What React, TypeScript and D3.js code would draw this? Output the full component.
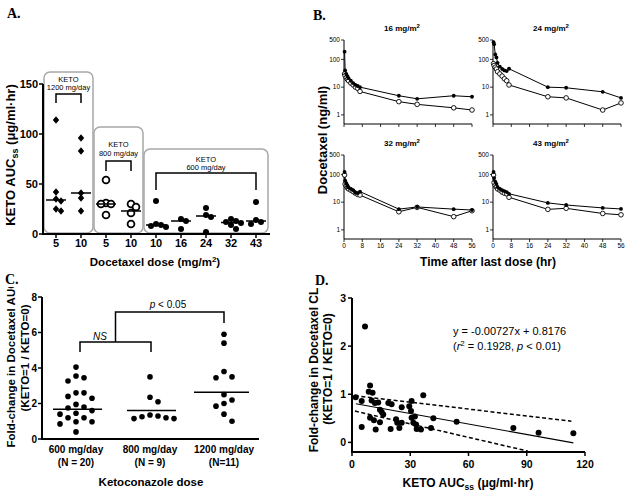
import React from 'react';
import * as d3 from 'd3';

const SANS = "'Liberation Sans', Arial, Helvetica, sans-serif";
const SERIF = "'Liberation Serif', 'Times New Roman', serif";

// ---------------- Panel A data ----------------
const aDoses = ['5', '10', '5', '10', '10', '16', '24', '32', '43'];
const aKeto = ['1200', '1200', '800', '800', '600', '600', '600', '600', '600'];
const aKetoAuc = [
  [114, 42, 35, 33, 25, 23],
  [96, 83, 41, 36, 23],
  [54, 31, 30, 30, 19],
  [30, 27, 21, 10],
  [33, 10, 9, 8, 7],
  [15, 13, 5],
  [26, 19, 17, 2],
  [15, 13, 12, 11, 9, 5],
  [32, 14, 12, 10],
];
const aMedians = [34, 41, 30, 23, 9, 13, 18, 11.5, 13];
const aYTicks = [0, 50, 100, 150];

// ---------------- Panel B data ----------------
const bTimes = [0.25, 0.5, 1, 1.5, 2, 3, 4, 5, 6, 7, 24, 32, 48, 56];
const bDoseTitles = ['16', '24', '32', '43'];
const bKeto1_16 = [190, 40, 30, 25, 21, 17, 14, 12, 11, 10, 4.9, 3.8, 4.9, 4.5];
const bKeto0_16 = [30, 26, 22, 19, 17, 14, 12, 10, 9, 7, 3, 2.4, 1.8, 1.5];
const bKeto1_24 = [415, 350, 150, 118, 75, 55, 45, 40, 38, 46, 10, 9.5, 6.8, 4.1];
const bKeto0_24 = [70, 60, 52, 45, 36, 30, 25, 20, 17, 12, 4.5, 4.1, 1.5, 2.7];
const bKeto1_32 = [122, 60, 48, 40, 34, 30, 27, 22, 21, 24, 5.6, 6.7, 5.6, 5.2];
const bKeto0_32 = [95, 45, 38, 33, 30, 27, 24, 21, 19, 18, 4.5, 6.5, 3, 4.9];
const bKeto1_43 = [122, 74, 55, 45, 35, 30, 27, 25, 23, 20, 9.4, 7.9, 6.2, 5.7];
const bKeto0_43 = [95, 50, 40, 35, 30, 27, 23, 21, 20, 15, 5.5, 6, 3.9, 3.5];
const bYTicks = [1, 10, 100, 500];
const bXTicks = [0, 8, 16, 24, 32, 40, 48, 56];

// ---------------- Panel C data ----------------
const cGroups = ['600 mg/day', '800 mg/day', '1200 mg/day'];
const cN = ['(N = 20)', '(N = 9)', '(N=11)'];
const c600 = [4.05, 3.55, 3.45, 3.27, 2.6, 2.6, 2.4, 2.3, 1.95, 1.8, 1.75, 1.6, 1.45, 1.4, 1.2, 1.2, 0.97, 0.97, 0.85, 0.4];
const c800 = [3.5, 2.35, 2.1, 1.35, 1.3, 1.25, 1.2, 1.15, 1.15];
const c1200 = [5.9, 5.4, 3.8, 3.5, 3.45, 2.5, 2.2, 2.0, 1.85, 1.4, 1.0];
const cMedians = [1.68, 1.6, 2.63];
const cYTicks = [0, 2, 4, 6, 8];

// ---------------- Panel D data ----------------
const dKetoAuc = [1.9, 5, 5, 9.3, 8.6, 10.6, 9.3, 10.1, 11.8, 13.5, 11.3, 12.2, 14.4, 15.3, 16.1, 14.4, 18.7, 20.4, 19.9, 22.7, 23.3, 24.4, 25.6, 25.6, 29.5, 30.7, 30.4, 30.7, 31.6, 32.4, 33, 33.3, 35.5, 36.7, 40.7, 41.9, 53.9, 83.1, 96.1, 114, 6.7];
const dFoldCL = [0.94, 0.86, 0.32, 1.18, 1.05, 1.03, 0.51, 0.87, 0.82, 0.83, 0.46, 0.27, 0.68, 0.63, 0.58, 0.42, 0.82, 0.79, 0.28, 0.48, 0.41, 0.30, 0.73, 0.41, 0.75, 0.86, 0.65, 0.51, 0.41, 0.54, 0.37, 0.28, 0.27, 0.98, 0.30, 0.50, 0.43, 0.30, 0.20, 0.19, 2.41];
const dSlope = -0.00727;
const dIntercept = 0.8176;
const dFitRange = [2, 114];
const dCiUpper: [number, number][] = [[1.5, 0.97], [113, 0.44]];
const dCiLower: [number, number][] = [[1.5, 0.65], [90.5, -0.18]];
const dXTicks = [0, 30, 60, 90, 120];
const dYTicks = [0, 1, 2, 3];

// simple dodge (beeswarm-like) layout for dot columns
function dodge(vals: number[], y: (v: number) => number, step: number, dyMin: number): number[] {
  const placed: { x: number; y: number }[] = [];
  const cands = [0, 1, -1, 2, -2, 3, -3];
  return vals.map((v) => {
    const py = y(v);
    for (const c of cands) {
      const px = c * step;
      if (!placed.some((p) => Math.abs(p.x - px) < step * 0.9 && Math.abs(p.y - py) < dyMin)) {
        placed.push({ x: px, y: py });
        return px;
      }
    }
    placed.push({ x: 0, y: py });
    return 0;
  });
}

function PanelA() {
  const x = d3.scalePoint<number>().domain(d3.range(aDoses.length)).range([56, 256]);
  const y = d3.scaleLinear().domain([0, 150]).range([234, 84]);
  const ax = 43;
  const boxes = [
    { g: '1200', from: 0, to: 1, top: 72, t1: 82, t2: 90, br: 94, drop: 9 },
    { g: '800', from: 2, to: 3, top: 127, t1: 147, t2: 155.5, br: 161, drop: 10 },
    { g: '600', from: 4, to: 8, top: 149, t1: 162, t2: 170, br: 173, drop: 17 },
  ];
  return (
    <g>
      <text x={7} y={18} fontFamily={SERIF} fontWeight="bold" fontSize={14}>A.</text>
      {boxes.map((b, i) => {
        const l = x(b.from)! - 12;
        const r = x(b.to)! + 12;
        const cx = (l + r) / 2;
        return (
          <g key={i}>
            <rect x={l} y={b.top} width={r - l} height={233 - b.top} rx={6} fill="none" stroke="#a8a8a8" strokeWidth={1.5} />
            <text x={cx} y={b.t1} textAnchor="middle" fontSize={7.5}>KETO</text>
            <text x={cx} y={b.t2} textAnchor="middle" fontSize={7.5}>{b.g} mg/day</text>
            <path d={`M${x(b.from)},${b.br + b.drop}V${b.br}H${x(b.to)}V${b.br + b.drop}`} fill="none" stroke="#000" strokeWidth={1.5} />
          </g>
        );
      })}
      {/* axes */}
      <line x1={ax} x2={ax} y1={y(150)} y2={y(0)} stroke="#000" strokeWidth={2} />
      <line x1={ax - 1} x2={270} y1={y(0)} y2={y(0)} stroke="#000" strokeWidth={2} />
      {aYTicks.map((t) => (
        <g key={t}>
          <line x1={ax - 4} x2={ax} y1={y(t)} y2={y(t)} stroke="#000" strokeWidth={1.5} />
          <text x={ax - 5} y={y(t) + 4} textAnchor="end" fontSize={11} fontWeight="bold">{t}</text>
        </g>
      ))}
      {aDoses.map((d, i) => (
        <g key={i}>
          <line x1={x(i)} x2={x(i)} y1={y(0)} y2={y(0) + 4} stroke="#000" strokeWidth={1.5} />
          <text x={x(i)} y={247} textAnchor="middle" fontSize={11} fontWeight="bold">{d}</text>
        </g>
      ))}
      {aKetoAuc.map((vals, i) => {
        const offs = dodge(vals, (v) => y(v), 5, 4.5);
        const g = aKeto[i];
        return (
          <g key={i}>
            {vals.map((v, j) => {
              const px = x(i)! + offs[j];
              const py = y(v);
              if (g === '1200')
                return <path key={j} d={`M${px},${py - 3.8}L${px + 3.2},${py}L${px},${py + 3.8}L${px - 3.2},${py}Z`} fill="#000" />;
              if (g === '800')
                return <circle key={j} cx={px} cy={py} r={3.4} fill="#fff" stroke="#000" strokeWidth={1.8} />;
              return <circle key={j} cx={px} cy={py} r={3} fill="#000" />;
            })}
            <line x1={x(i)! - 10} x2={x(i)! + 10} y1={y(aMedians[i])} y2={y(aMedians[i])} stroke="#000" strokeWidth={1.5} />
          </g>
        );
      })}
      <text transform={`translate(14.5,${155}) rotate(-90)`} textAnchor="middle" fontSize={13} fontWeight="bold">
        KETO AUC<tspan fontSize={9} dy={3}>ss</tspan><tspan dy={-3}> (μg/ml·hr)</tspan>
      </text>
      <text x={155} y={266} textAnchor="middle" fontSize={11.5} fontWeight="bold">
        Docetaxel dose (mg/m<tspan fontSize={8} dy={-4}>2</tspan><tspan dy={4}>)</tspan>
      </text>
    </g>
  );
}

function BSub({ left, top, dose, on, off, showX }: { left: number; top: number; dose: string; on: number[]; off: number[]; showX: boolean }) {
  const x = d3.scaleLinear().domain([0, 56]).range([left, left + 128]);
  const y = d3.scaleLog().domain([0.47, 500]).range([top + 84, top]);
  const line = d3.line<number>().x((_, i) => x(bTimes[i])).y((v) => y(v));
  return (
    <g>
      <text x={left + 58} y={top - 9} textAnchor="middle" fontSize={8} fontWeight="bold">
        {dose} mg/m<tspan fontSize={6} dy={-3}>2</tspan>
      </text>
      <line x1={left} x2={left} y1={top} y2={top + 84} stroke="#000" strokeWidth={1} />
      <line x1={left} x2={left + 128} y1={top + 84} y2={top + 84} stroke="#000" strokeWidth={1} />
      {bYTicks.map((t) => (
        <g key={t}>
          <line x1={left - 3} x2={left} y1={y(t)} y2={y(t)} stroke="#000" strokeWidth={0.8} />
          <text x={left - 4} y={y(t) + 2.2} textAnchor="end" fontSize={6.5}>{t}</text>
        </g>
      ))}
      {bXTicks.map((t) => (
        <g key={t}>
          <line x1={x(t)} x2={x(t)} y1={top + 84} y2={top + 87} stroke="#000" strokeWidth={0.8} />
          {showX && <text x={x(t)} y={top + 93} textAnchor="middle" fontSize={6.5}>{t}</text>}
        </g>
      ))}
      <path d={line(off)!} fill="none" stroke="#000" strokeWidth={1} />
      <path d={line(on)!} fill="none" stroke="#000" strokeWidth={1} />
      {off.map((v, i) => (
        <circle key={'o' + i} cx={x(bTimes[i])} cy={y(v)} r={2.3} fill="#fff" stroke="#000" strokeWidth={0.9} />
      ))}
      {on.map((v, i) => (
        <circle key={'f' + i} cx={x(bTimes[i])} cy={y(v)} r={1.9} fill="#000" />
      ))}
    </g>
  );
}

function PanelB() {
  const subs = [
    { left: 344, top: 40, on: bKeto1_16, off: bKeto0_16, showX: false },
    { left: 493, top: 40, on: bKeto1_24, off: bKeto0_24, showX: false },
    { left: 344, top: 155, on: bKeto1_32, off: bKeto0_32, showX: true },
    { left: 493, top: 155, on: bKeto1_43, off: bKeto0_43, showX: true },
  ];
  return (
    <g>
      <text x={313} y={20} fontFamily={SERIF} fontWeight="bold" fontSize={14}>B.</text>
      {subs.map((s, i) => (
        <BSub key={i} left={s.left} top={s.top} dose={bDoseTitles[i]} on={s.on} off={s.off} showX={s.showX} />
      ))}
      <text transform="translate(326.5,140) rotate(-90)" textAnchor="middle" fontSize={13} fontWeight="bold">Docetaxel (ng/ml)</text>
      <text x={488} y={266} textAnchor="middle" fontSize={12} fontWeight="bold">Time after last dose (hr)</text>
    </g>
  );
}

function PanelC() {
  const x = d3.scalePoint<string>().domain(cGroups).range([76, 224]);
  const y = d3.scaleLinear().domain([0, 8]).range([439, 297]);
  const ax = 42;
  const groups = [c600, c800, c1200];
  const ns = { l: x(cGroups[0])! + 4, r: x(cGroups[1])! + 1, y: y(5.46), d: y(4.9) };
  const mid = (ns.l + ns.r) / 2;
  const py = y(7.15);
  return (
    <g>
      <defs>
        <clipPath id="clipC">
          <rect x={0} y={287} width={40} height={209} />
        </clipPath>
      </defs>
      <text x={5} y={284} fontFamily={SERIF} fontWeight="bold" fontSize={14}>C.</text>
      <line x1={ax} x2={ax} y1={y(8)} y2={y(0)} stroke="#000" strokeWidth={2} />
      <line x1={ax - 1} x2={259} y1={y(0)} y2={y(0)} stroke="#000" strokeWidth={2} />
      {cYTicks.map((t) => (
        <g key={t}>
          <line x1={ax - 4} x2={ax} y1={y(t)} y2={y(t)} stroke="#000" strokeWidth={1.5} />
          <text x={ax - 5} y={y(t) + 3.5} textAnchor="end" fontSize={10} fontWeight="bold">{t}</text>
        </g>
      ))}
      {groups.map((vals, i) => {
        const offs = dodge(vals, (v) => y(v), 8, 8.5);
        const cx = x(cGroups[i])!;
        return (
          <g key={i}>
            {vals.map((v, j) => (
              <circle key={j} cx={cx + offs[j]} cy={y(v)} r={2.8} fill="#000" />
            ))}
            <line x1={cx - (i === 2 ? 30 : 23)} x2={cx + (i === 2 ? 25 : 26)} y1={y(cMedians[i])} y2={y(cMedians[i])} stroke="#000" strokeWidth={1.5} />
            <text x={cx} y={453} textAnchor="middle" fontSize={10} fontWeight="bold">{cGroups[i]}</text>
            <text x={cx} y={466} textAnchor="middle" fontSize={10} fontWeight="bold">{cN[i]}</text>
          </g>
        );
      })}
      <path d={`M${ns.l},${ns.d}V${ns.y}H${ns.r}V${ns.d}`} fill="none" stroke="#000" strokeWidth={1.5} />
      <path d={`M${mid},${ns.y}V${py}H${x(cGroups[2])}V${y(6.54)}`} fill="none" stroke="#000" strokeWidth={1.5} />
      <text x={100} y={340} textAnchor="middle" fontSize={10} fontStyle="italic">NS</text>
      <text x={168} y={308} textAnchor="middle" fontSize={10}>
        <tspan fontStyle="italic">p</tspan> &lt; 0.05
      </text>
      <g clipPath="url(#clipC)">
        <text transform="translate(15,364) rotate(-90)" textAnchor="middle" fontSize={11.5} fontWeight="bold">Fold-change in Docetaxel AUC</text>
      </g>
      <text transform="translate(29,358) rotate(-90)" textAnchor="middle" fontSize={11.5} fontWeight="bold">(KETO=1 / KETO=0)</text>
      <text x={151} y={486} textAnchor="middle" fontSize={11.5} fontWeight="bold">Ketoconazole dose</text>
    </g>
  );
}

function PanelD() {
  const x = d3.scaleLinear().domain([0, 120]).range([352, 585]);
  const y = d3.scaleLinear().domain([-0.2, 3]).range([452, 298]);
  const line = d3.line<[number, number]>().x((d) => x(d[0])).y((d) => y(d[1]));
  const fit: [number, number][] = dFitRange.map((v) => [v, dIntercept + dSlope * v]);
  return (
    <g>
      <text x={315} y={285} fontFamily={SERIF} fontWeight="bold" fontSize={14}>D.</text>
      <line x1={352} x2={352} y1={y(3)} y2={y(-0.2)} stroke="#000" strokeWidth={2} />
      <line x1={351} x2={585} y1={y(-0.2)} y2={y(-0.2)} stroke="#000" strokeWidth={2} />
      {dYTicks.map((t) => (
        <g key={t}>
          <line x1={348} x2={352} y1={y(t)} y2={y(t)} stroke="#000" strokeWidth={1.5} />
          <text x={346} y={y(t) + 3.5} textAnchor="end" fontSize={10.5} fontWeight="bold">{t}</text>
        </g>
      ))}
      {dXTicks.map((t) => (
        <g key={t}>
          <line x1={x(t)} x2={x(t)} y1={y(-0.2)} y2={y(-0.2) + 4} stroke="#000" strokeWidth={1.5} />
          <text x={x(t)} y={468} textAnchor="middle" fontSize={10.5} fontWeight="bold">{t}</text>
        </g>
      ))}
      {dKetoAuc.map((v, i) => (
        <circle key={i} cx={x(v)} cy={y(dFoldCL[i])} r={3} fill="#000" />
      ))}
      <path d={line(fit)!} fill="none" stroke="#000" strokeWidth={1.2} />
      <path d={line(dCiUpper)!} fill="none" stroke="#000" strokeWidth={1.5} strokeDasharray="4,2.5" />
      <path d={line(dCiLower)!} fill="none" stroke="#000" strokeWidth={1.5} strokeDasharray="4,2.5" />
      <text x={453} y={335} fontSize={11}>y = -0.00727x + 0.8176</text>
      <text x={453} y={350} fontSize={11}>
        (<tspan fontStyle="italic">r</tspan><tspan fontSize={8} dy={-4}>2</tspan><tspan dy={4}> = 0.1928, </tspan>
        <tspan fontStyle="italic">p</tspan> &lt; 0.01)
      </text>
      <text transform="translate(318,370) rotate(-90)" textAnchor="middle" fontSize={12} fontWeight="bold">Fold-change in Docetaxel CL</text>
      <text transform="translate(332,369) rotate(-90)" textAnchor="middle" fontSize={12} fontWeight="bold">(KETO=1 / KETO=0)</text>
      <text x={468} y={487} textAnchor="middle" fontSize={12} fontWeight="bold">
        KETO AUC<tspan fontSize={8.5} dy={3}>ss</tspan><tspan dy={-3}> (μg/ml·hr)</tspan>
      </text>
    </g>
  );
}

export default function App() {
  return (
    <svg width={629} height={496} style={{ position: 'absolute', left: 0, top: 0, background: '#fff' }} fontFamily={SANS}>
      <rect width={629} height={496} fill="#fff" />
      <PanelA />
      <PanelB />
      <PanelC />
      <PanelD />
    </svg>
  );
}
